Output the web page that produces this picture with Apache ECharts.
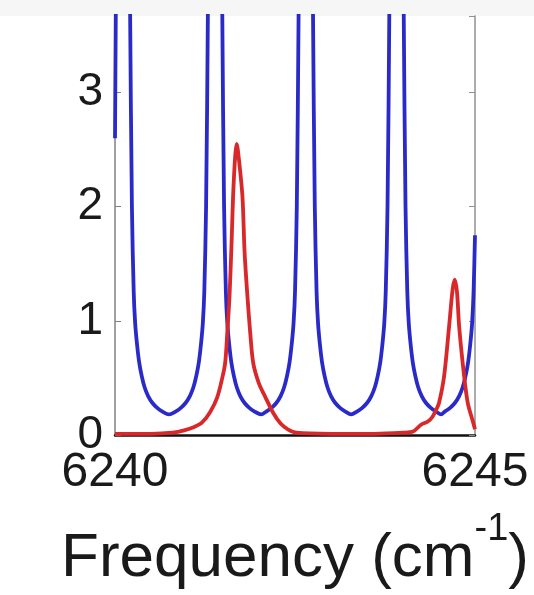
<!DOCTYPE html>
<html>
<head>
<meta charset="utf-8">
<script src="https://cdn.jsdelivr.net/npm/echarts@6/dist/echarts.min.js"></script>
<style>
    html, body { margin: 0; padding: 0; background: #ffffff; }
    #spectrum { width: 534px; height: 595px; }
</style>
</head>
<body>
<div id="spectrum"></div>
<script>
// x-axis tick labels (cm^-1)
var xTicks = [6240, 6245];
var yTicks = [0, 1, 2, 3];

// blue trace: [frequency, value] (peaks run off the top)
var blueData = [
    [6240.00, 2.6], [6240.035, 6], [6240.11, 12],
    [6240.185, 6], [6240.21, 3.7], [6240.235, 2.0], [6240.26, 1.25], [6240.28, 0.98], [6240.305, 0.8],
    [6240.335, 0.64], [6240.37, 0.52], [6240.41, 0.42], [6240.46, 0.34], [6240.52, 0.28],
    [6240.59, 0.235], [6240.66, 0.205], [6240.75, 0.18],
    [6240.84, 0.205], [6240.91, 0.235], [6240.98, 0.28], [6241.04, 0.34], [6241.09, 0.42],
    [6241.13, 0.52], [6241.165, 0.64], [6241.195, 0.8], [6241.22, 0.98], [6241.24, 1.25],
    [6241.265, 2.0], [6241.29, 3.7], [6241.315, 6], [6241.39, 12],
    [6241.465, 6], [6241.49, 3.7], [6241.515, 2.0], [6241.54, 1.25], [6241.56, 0.98], [6241.585, 0.8],
    [6241.615, 0.64], [6241.65, 0.52], [6241.69, 0.42], [6241.74, 0.34], [6241.80, 0.28],
    [6241.87, 0.235], [6241.94, 0.205], [6242.03, 0.18],
    [6242.10, 0.205], [6242.17, 0.235], [6242.24, 0.28], [6242.30, 0.34], [6242.35, 0.42],
    [6242.39, 0.52], [6242.425, 0.64], [6242.455, 0.8], [6242.48, 0.98], [6242.50, 1.25],
    [6242.525, 2.0], [6242.55, 3.7], [6242.575, 6], [6242.65, 12],
    [6242.725, 6], [6242.75, 3.7], [6242.775, 2.0], [6242.80, 1.25], [6242.82, 0.98], [6242.845, 0.8],
    [6242.875, 0.64], [6242.91, 0.52], [6242.95, 0.42], [6243.00, 0.34], [6243.06, 0.28],
    [6243.13, 0.235], [6243.20, 0.205], [6243.28, 0.18],
    [6243.36, 0.205], [6243.43, 0.235], [6243.50, 0.28], [6243.56, 0.34], [6243.61, 0.42],
    [6243.65, 0.52], [6243.685, 0.64], [6243.715, 0.8], [6243.74, 0.98], [6243.76, 1.25],
    [6243.785, 2.0], [6243.81, 3.7], [6243.835, 6], [6243.91, 12],
    [6243.985, 6], [6244.01, 3.7], [6244.035, 2.0], [6244.06, 1.25], [6244.08, 0.98], [6244.105, 0.8],
    [6244.135, 0.64], [6244.17, 0.52], [6244.21, 0.42], [6244.26, 0.34], [6244.32, 0.28],
    [6244.39, 0.235], [6244.46, 0.205], [6244.53, 0.18],
    [6244.58, 0.205], [6244.65, 0.235], [6244.72, 0.28], [6244.78, 0.34], [6244.83, 0.42],
    [6244.87, 0.52], [6244.905, 0.64], [6244.935, 0.8], [6244.96, 0.98], [6244.98, 1.25],
    [6245.00, 1.75]
];

// red trace
var redData = [
    [6240.0, 0.01], [6240.5, 0.01], [6240.8, 0.02], [6240.96, 0.04], [6241.1, 0.07],
    [6241.21, 0.11], [6241.32, 0.2], [6241.42, 0.33], [6241.49, 0.5], [6241.53, 0.63],
    [6241.56, 0.9], [6241.59, 1.21], [6241.62, 1.7], [6241.64, 2.09], [6241.67, 2.45],
    [6241.69, 2.55], [6241.72, 2.42], [6241.77, 2.09], [6241.80, 1.6], [6241.84, 1.21],
    [6241.88, 0.88], [6241.92, 0.63], [6242.0, 0.45], [6242.09, 0.33], [6242.2, 0.19],
    [6242.3, 0.1], [6242.4, 0.05], [6242.52, 0.02], [6243.0, 0.01], [6243.6, 0.01],
    [6244.0, 0.02], [6244.14, 0.03], [6244.25, 0.09], [6244.35, 0.12], [6244.41, 0.16],
    [6244.46, 0.22], [6244.5, 0.28], [6244.57, 0.51], [6244.64, 0.95], [6244.69, 1.28],
    [6244.72, 1.36], [6244.75, 1.25], [6244.78, 0.95], [6244.85, 0.51], [6244.9, 0.28],
    [6244.97, 0.12], [6245.0, 0.05]
];

var chart = echarts.init(document.getElementById('spectrum'));
var font = 'Liberation Sans, Arial, sans-serif';
var option = {
    backgroundColor: '#ffffff',
    animation: false,
    graphic: [{
        type: 'rect',
        shape: { x: 0, y: 0, width: 534, height: 16 },
        style: { fill: '#f6f6f6' },
        silent: true
    }],
    grid: { left: 115, right: 59, top: 16, bottom: 160, outerBoundsMode: 'none' },
    xAxis: {
        type: 'value',
        min: xTicks[0],
        max: xTicks[xTicks.length - 1],
        interval: 5,
        name: '{a|Frequency (cm}{sup|-1}{a|)}',
        nameLocation: 'middle',
        nameGap: 76,
        nameTextStyle: {
            rich: {
                a: { fontFamily: font, fontSize: 62, color: '#1a1a1a', lineHeight: 96 },
                sup: { fontFamily: font, fontSize: 38, color: '#1a1a1a', verticalAlign: 'top', lineHeight: 38 }
            }
        },
        axisLine: { lineStyle: { color: '#111111', width: 2.5 } },
        axisTick: { show: false },
        splitLine: { show: false },
        axisLabel: {
            fontFamily: font, fontSize: 48, color: '#1a1a1a', margin: 14,
            showMinLabel: true, showMaxLabel: true,
            formatter: function (v) { return String(v); }
        }
    },
    yAxis: [{
        type: 'value',
        min: yTicks[0],
        max: 3.67,
        interval: 1,
        axisLine: { show: true, lineStyle: { color: '#808080', width: 1.5 } },
        axisTick: { show: true, inside: true, length: 6, lineStyle: { color: '#808080' } },
        splitLine: { show: false },
        axisLabel: { fontFamily: font, fontSize: 46, color: '#1a1a1a', margin: 12, showMaxLabel: false }
    }, {
        type: 'value',
        position: 'right',
        min: yTicks[0],
        max: 3.67,
        interval: 1,
        axisLine: { show: true, lineStyle: { color: '#909090', width: 1.5 } },
        axisTick: { show: true, inside: true, length: 6, lineStyle: { color: '#909090' } },
        splitLine: { show: false },
        axisLabel: { show: false }
    }],
    series: [
        {
            name: 'blue',
            type: 'line',
            data: blueData,
            symbol: 'none',
            smooth: 0.3,
            clip: true,
            lineStyle: { color: '#2a2ac8', width: 3.8 }
        },
        {
            name: 'red',
            type: 'line',
            data: redData,
            symbol: 'none',
            smooth: 0.3,
            clip: true,
            lineStyle: { color: '#d8282a', width: 3.8 }
        }
    ]
};
chart.setOption(option);
</script>
</body>
</html>
